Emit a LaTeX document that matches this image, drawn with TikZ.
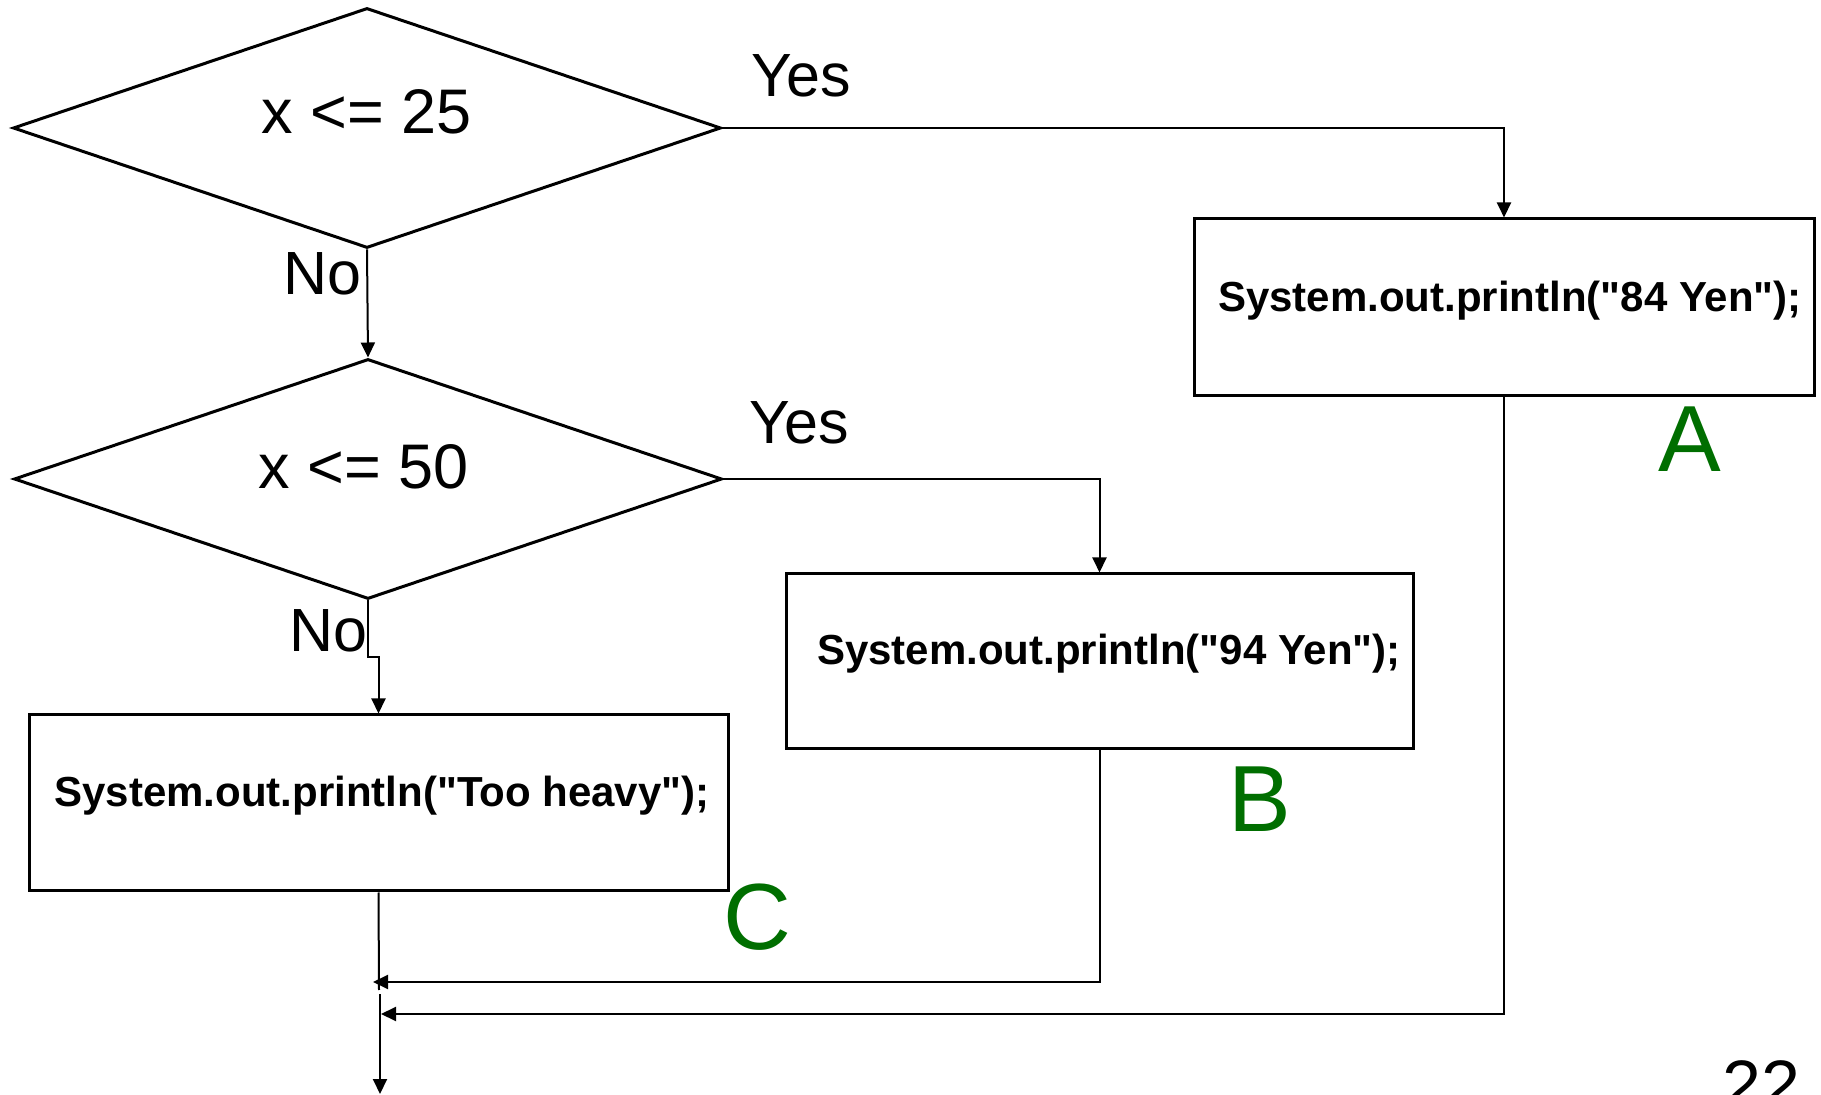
\documentclass[tikz,border=0pt]{standalone}
\usepackage{fontspec}
\setmainfont{Liberation Sans}
\newfontfamily\codefont{Liberation Sans}[Ligatures=TeXOff]
\usetikzlibrary{shapes.geometric,arrows.meta}
\definecolor{lblgreen}{RGB}{0,110,0}
\begin{document}
\begin{tikzpicture}[x=0.5pt,y=-0.5pt,
  dec/.style={diamond,draw,line width=1.5pt,aspect=2.95,inner sep=0pt,minimum width=354pt,minimum height=120pt},
  stmt/.style={rectangle,draw,line width=1.5pt,inner sep=0pt},
  conn/.style={line width=1pt,-{Triangle[length=7.5pt,width=7pt]}},
  plain/.style={line width=1pt},
  cond/.style={font=\fontsize{31.5}{36}\selectfont,inner sep=0pt},
  ans/.style={font=\fontsize{30.5}{35}\selectfont,inner sep=0pt},
  code/.style={font=\codefont\bfseries\fontsize{21}{25}\selectfont,inner sep=0pt},
  tag/.style={font=\fontsize{47}{54}\selectfont,text=lblgreen,inner sep=0pt}]
\useasboundingbox (0,0) rectangle (1821,1095);
\clip (0,0) rectangle (1821,1095);
% decisions
\node[dec] (d1) at (367,128) {};
\node[cond] (t1) at (367,112) {x <= 25};
\node[dec] (d2) at (368,479) {};
\node[cond] (t2) at (364,467) {x <= 50};
% statements
\node[stmt,minimum width=310pt,minimum height=88.5pt] (A) at (1504,307.5) {};
\node[code] (ta) at (1510,301) {System.out.println("84 Yen");};
\node[stmt,minimum width=313.5pt,minimum height=87.5pt] (B) at (1099.5,661.5) {};
\node[code] (tb) at (1109,654) {System.out.println("94 Yen");};
\node[stmt,minimum width=349.5pt,minimum height=88pt] (C) at (378.5,803) {};
\node[code] (tc) at (382,796) {System.out.println("Too heavy");};
% labels
\node[ans] (y1) at (801,76) {Yes};
\node[ans] (y2) at (799,423) {Yes};
\node[ans] (n1) at (322,274) {No};
\node[ans] (n2) at (328,631) {No};
\node[tag] (la) at (1690,439) {A};
\node[tag] (lb) at (1260,799) {B};
\node[tag] (lc) at (757,917) {C};
\node[font=\fontsize{35}{40}\selectfont,anchor=base,inner sep=0pt] (pg) at (1761.5,1109) {22};
% connectors
\coordinate (j1) at (0,657);
\coordinate (jb) at (373,982);
\coordinate (ja) at (381,1014);
\coordinate (m1) at (379,990);
\coordinate (m2) at (380,994);
\coordinate (end) at (380,1094);
\draw[conn] (d1.east) -| (A.north);
\draw[conn] (d2.east) -| (B.north);
\draw[conn] (d1.south) -- (d2.north);
\draw[conn] (d2.south) -- (d2.south |- j1) -- (C.north |- j1) -- (C.north);
\draw[plain] (C.south) -- (m1);
\draw[conn] (B.south) |- (jb);
\draw[conn] (A.south) |- (ja);
\draw[conn] (m2) -- (end);
\end{tikzpicture}
\end{document}
